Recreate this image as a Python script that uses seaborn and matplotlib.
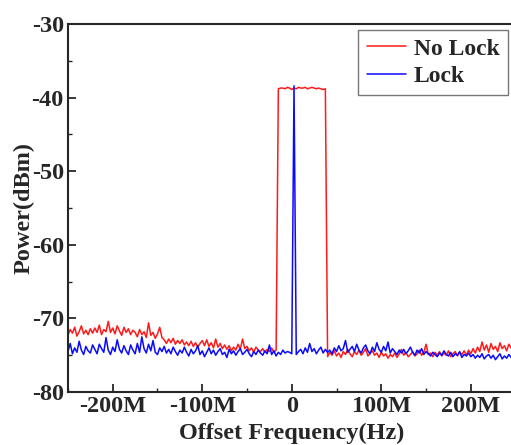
import numpy as np
import pandas as pd
import matplotlib
matplotlib.use("Agg")
import matplotlib.pyplot as plt
import seaborn as sns
from matplotlib.ticker import FuncFormatter, MultipleLocator

# frequency grid, 2.5 MHz steps from -250M to 250M
freq_mhz = np.arange(-250, 250.1, 2.5)

no_lock = [
    -72.3, -71.5, -72.0, -71.2, -72.4, -71.8, -71.0, -72.1, -71.6, -72.2,
    -71.4, -72.0, -71.3, -71.9, -70.9, -72.2, -71.5, -71.8, -70.4, -71.9,
    -71.3, -72.1, -71.0, -71.7, -72.3, -71.2, -71.9, -71.4, -72.2, -71.6,
    -71.9, -72.5, -71.5, -72.2, -71.8, -72.6, -70.6, -72.3, -71.9, -72.7,
    -72.1, -71.2, -72.6, -72.9, -73.4, -72.8, -73.3, -72.7, -73.5, -73.0,
    -73.4, -72.9, -73.6, -73.2, -73.7, -73.1, -73.8, -73.3, -73.9, -73.4,
    -73.0, -73.7, -72.9, -73.8, -73.3, -74.0, -72.8, -73.9, -73.4, -74.1,
    -73.6, -74.2, -73.7, -74.4, -73.9, -74.3, -73.5, -74.2, -72.8, -74.1,
    -73.8, -74.4, -74.0, -74.6, -73.9, -74.3, -74.5, -74.1, -74.6, -74.2,
    -74.5, -74.0, -74.6, -74.3,
    -38.8, -38.7, -38.7, -38.8, -38.6, -38.7, -38.9, -38.7, -38.8, -38.6,
    -38.7, -38.7, -38.6, -38.8, -38.7, -38.6, -38.7, -38.8, -38.7, -38.8,
    -38.9, -38.8,
    -75.2, -74.6, -75.0, -74.4, -75.1, -74.7, -75.3, -74.5, -74.9, -74.2,
    -74.8, -75.2, -74.5, -74.9, -74.3, -75.0, -74.6, -74.1, -75.1, -74.7,
    -74.4, -75.0, -74.7, -75.3, -74.6, -75.1, -74.8, -75.4, -74.9, -75.2,
    -74.7, -75.3, -74.8, -74.2, -75.0, -74.6, -75.2, -74.9, -74.5, -75.1,
    -74.8, -74.3, -75.0, -74.6, -73.5, -74.9, -74.7, -75.2, -74.6, -75.0,
    -74.5, -75.1, -74.7, -75.0, -74.4, -75.2, -74.8, -74.5, -75.1, -74.6,
    -74.9, -74.4, -75.0, -74.3, -74.8, -74.1, -74.7, -73.9, -74.5, -73.2,
    -74.3, -73.6, -74.6, -73.4, -74.2, -73.8, -74.5, -73.3, -74.1, -73.7,
    -74.4, -73.5, -74.0, -74.6, -73.9,
]

lock = [
    -74.5, -73.4, -74.8, -74.0, -74.6, -73.1, -74.3, -74.9, -73.8, -74.4,
    -74.7, -73.6, -74.2, -74.8, -73.5, -74.1, -74.6, -72.6, -74.3, -74.9,
    -73.9, -74.5, -72.9, -74.2, -74.7, -73.7, -74.4, -74.9, -73.6, -74.3,
    -74.8, -73.4, -74.6, -72.5, -74.1, -74.7, -73.5, -74.4, -73.0, -74.6,
    -74.9, -74.0, -74.5, -73.8, -74.7, -74.2, -74.8, -73.9, -74.5, -75.0,
    -74.3, -74.7, -73.9, -74.6, -75.1, -74.2, -74.8, -74.4, -73.7, -74.9,
    -74.4, -75.2, -74.6, -74.0, -74.8, -74.3, -75.0, -74.5, -74.1, -74.9,
    -74.6, -75.3, -74.2, -74.8, -74.4, -75.0, -74.5, -74.1, -74.9, -74.6,
    -74.2, -74.8, -75.2, -74.5, -74.9, -74.3, -74.7, -75.0, -74.4, -74.8,
    -73.6, -74.9, -74.4, -75.1, -74.6, -74.9, -74.3, -74.7, -74.5, -74.6,
    -74.8, -38.4, -74.9, -74.5, -74.2, -74.8, -74.0, -74.6, -73.4, -74.5,
    -74.1, -74.8, -74.3, -73.9, -74.7, -74.2, -74.6, -74.3, -74.8, -74.0,
    -74.5, -73.7, -74.4, -74.1, -73.0, -74.6, -74.2, -73.8, -74.5, -73.5,
    -74.3, -74.7, -74.0, -73.6, -74.4, -74.8, -73.9, -74.5, -73.3, -74.2,
    -74.6, -73.8, -74.4, -73.2, -74.7, -74.1, -74.5, -74.9, -74.3, -74.7,
    -74.2, -74.8, -74.4, -73.9, -74.6, -75.0, -74.3, -74.7, -74.1, -74.9,
    -74.5, -74.8, -75.1, -74.6, -74.9, -75.2, -74.7, -75.0, -74.4, -74.9,
    -75.1, -74.6, -75.2, -74.8, -75.0, -74.5, -75.3, -74.9, -75.1, -74.7,
    -75.2, -74.9, -75.4, -75.0, -75.3, -74.8, -75.5, -75.1, -74.9, -75.4,
    -75.0, -75.6, -75.2, -74.8, -75.5, -75.1, -75.4, -74.9, -75.3, -74.7,
    -74.9,
]

df = pd.concat([
    pd.DataFrame({"freq": freq_mhz * 1e6, "power": no_lock, "series": "No Lock"}),
    pd.DataFrame({"freq": freq_mhz * 1e6, "power": lock, "series": "Lock"}),
])

sns.set_style("ticks")
plt.rcParams["font.family"] = ["Liberation Serif", "DejaVu Serif"]
plt.rcParams["font.weight"] = "bold"

fig = plt.figure(figsize=(5.11, 4.45), dpi=100)
ax = fig.add_axes([0.133, 0.119, 0.876, 0.827])

sns.lineplot(data=df, x="freq", y="power", hue="series",
             palette={"No Lock": "#ff1a1a", "Lock": "#0a0aff"},
             estimator=None, linewidth=1.1, ax=ax)

ax.set_xlim(-250e6, 250e6)
ax.set_ylim(-80, -30)
ax.xaxis.set_major_locator(MultipleLocator(100e6))
ax.xaxis.set_minor_locator(MultipleLocator(50e6))
ax.yaxis.set_major_locator(MultipleLocator(10))
ax.yaxis.set_minor_locator(MultipleLocator(5))
ax.xaxis.set_major_formatter(FuncFormatter(lambda v, p: "0" if abs(v) < 1 else f"{v/1e6:.0f}M"))
ax.yaxis.set_major_formatter(FuncFormatter(lambda v, p: f"{v:.0f}"))
ax.tick_params(which="major", direction="in", length=6, width=1.3, labelsize=17.5, pad=3)
ax.tick_params(which="minor", direction="in", length=3, width=1.0)
for lbl in ax.get_xticklabels() + ax.get_yticklabels():
    lbl.set_fontweight("bold")
for s in ax.spines.values():
    s.set_linewidth(1.5)

ax.set_xlabel("Offset Frequency(Hz)", fontsize=17.5, fontweight="bold", labelpad=4)
ax.set_ylabel("Power(dBm)", fontsize=17.5, fontweight="bold", labelpad=-2)

leg = ax.legend(loc="upper right", bbox_to_anchor=(0.994, 0.933),
                bbox_transform=fig.transFigure, fancybox=False,
                edgecolor="#777777", framealpha=1, fontsize=17,
                handlelength=1.65, handletextpad=0.35, borderpad=0.35,
                labelspacing=0.25, borderaxespad=0)
for t in leg.get_texts():
    t.set_fontweight("bold")
leg.get_frame().set_linewidth(1.0)

fig.savefig("out.png", dpi=100)
